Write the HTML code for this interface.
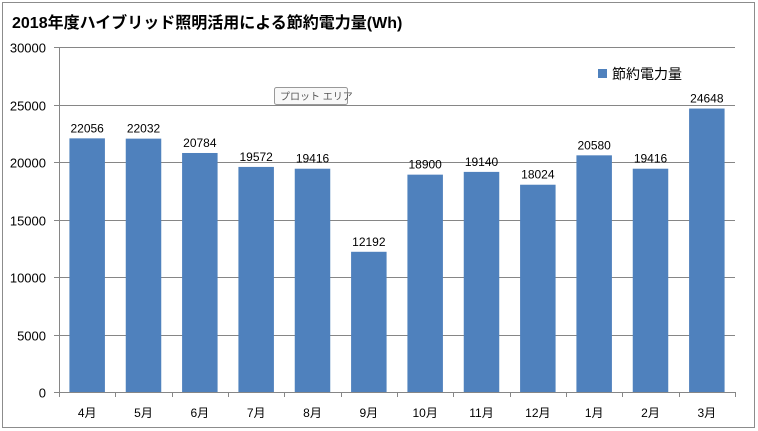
<!DOCTYPE html>
<html><head><meta charset="utf-8"><style>
body{margin:0;background:#fff;}
svg{display:block;font-family:"Liberation Sans","Noto Sans CJK JP",sans-serif;}
</style></head><body>
<svg id="c" width="758" height="431">
<rect x="2.5" y="2.5" width="752" height="425" fill="#fff" stroke="#8c8c8c"/>
<text x="12" y="28" font-size="16" font-weight="bold" fill="#000">2018年度ハイブリッド照明活用による節約電力量(Wh)</text>
<g id="grid"></g><g id="bars"></g><g id="axes"></g>
<rect x="598" y="69" width="9" height="9" fill="#4f81bd"/>
<text x="612" y="79" font-size="14" fill="#000">節約電力量</text>
<g>
<rect x="274.5" y="87.5" width="73" height="17" rx="2" fill="#f8f8f8" stroke="#999"/>
<text x="280" y="100" font-size="10" fill="#555">プロット エリア</text>
</g>
</svg>
<script>
const categories=["4月","5月","6月","7月","8月","9月","10月","11月","12月","1月","2月","3月"];
const values=[22056,22032,20784,19572,19416,12192,18900,19140,18024,20580,19416,24648];
const yTicks=[0,5000,10000,15000,20000,25000,30000];
const NS="http://www.w3.org/2000/svg";
const X0=59,X1=735,Y0=392,Y1=47,YMAX=30000;
const cw=(X1-X0)/categories.length;
const y=v=>Y0-(v/YMAX)*(Y0-Y1);
const xc=i=>X0+cw*(i+0.5);
function mk(p,tag,attrs,txt){const e=document.createElementNS(NS,tag);for(const k in attrs)e.setAttribute(k,attrs[k]);if(txt!==undefined)e.textContent=txt;p.appendChild(e);return e;}
const G=document.getElementById('grid'),B=document.getElementById('bars'),A=document.getElementById('axes');
yTicks.forEach(t=>{
 const yy=Math.round(y(t))+0.5;
 if(t>0){const l=mk(G,'line',{x1:X0,x2:X1,y1:yy,y2:yy,stroke:'#868686'});
 
 }
 const tk=mk(A,'line',{x1:X0-5,x2:X0,y1:yy,y2:yy,stroke:'#868686'});
 
 
 const tx=mk(A,'text',{x:X0-13,y:yy+5,'font-size':13,'text-anchor':'end',fill:'#000'},String(t));
 
 
});
const bw=35.5;
values.forEach((v,i)=>{
 const r=mk(B,'rect',{x:xc(i)-bw/2,y:y(v),width:bw,height:Y0-y(v),fill:'#4f81bd'});
 
 
 const t=mk(B,'text',{x:xc(i),y:y(v)-6,'font-size':12,'text-anchor':'middle',fill:'#000'},String(v));
 
 
 const c=mk(A,'text',{x:xc(i),y:417,'font-size':12,'text-anchor':'middle',fill:'#000'},categories[i]);
 
 
});
for(let i=0;i<=categories.length;i++){
 const xx=Math.round(X0+cw*i)+0.5;
 const t=mk(A,'line',{x1:xx,x2:xx,y1:Y0,y2:Y0+5,stroke:'#868686'});
 
 
}
const ya=mk(A,'line',{x1:X0+0.5,x2:X0+0.5,y1:Y1,y2:Y0,stroke:'#868686'});


const xa=mk(A,'line',{x1:X0,x2:X1,y1:Y0+0.5,y2:Y0+0.5,stroke:'#868686'});


</script>
</body></html>
